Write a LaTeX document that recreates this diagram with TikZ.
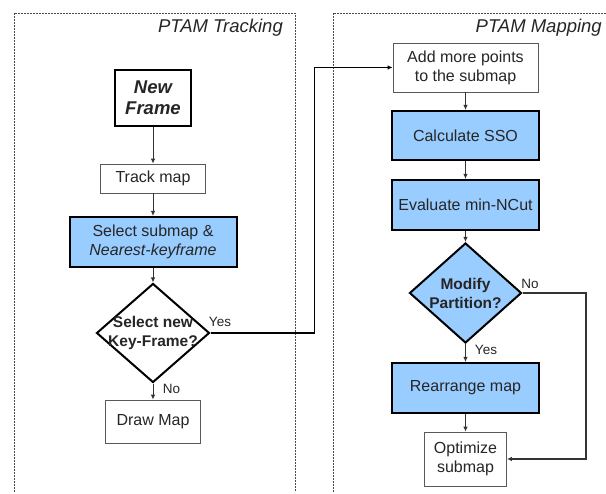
\documentclass[tikz,border=0pt]{standalone}
\usepackage{fontspec}
\setmainfont{Liberation Sans}
\usetikzlibrary{shapes.geometric,arrows.meta}
\definecolor{boxblue}{HTML}{99CCFF}
\definecolor{txt}{HTML}{262626}
\definecolor{framegray}{HTML}{4A4A4A}
\definecolor{linegray}{HTML}{333333}
\tikzset{
  base/.style={font=\fontsize{16}{19}\selectfont, text=txt, align=center, inner sep=0pt},
  plainbox/.style={base, draw=gray!70!black, line width=0.8pt, fill=white},
  bluebox/.style={base, draw=black, line width=2pt, fill=boxblue},
  decision/.style={diamond, draw=black, line width=2pt, inner sep=0pt},
  dtext/.style={font=\bfseries\fontsize{15.5}{19}\selectfont, text=txt, align=center, inner sep=0pt},
  lbl/.style={font=\fontsize{13.5}{16}\selectfont, text=txt, inner sep=0pt},
  title/.style={font=\itshape\fontsize{18.5}{22}\selectfont, text=txt, inner sep=0pt, anchor=east},
  frame/.style={draw=framegray, line width=0.9pt, dash pattern=on 1.6pt off 1.4pt},
  arr/.style={draw=linegray, line width=0.9pt, -{Latex[length=5pt,width=4.5pt]}},
}
\begin{document}
\begin{tikzpicture}[x=1pt,y=-1pt]
\useasboundingbox (0,0) rectangle (606,494);

% process frames
\draw[frame] (14,492) -- (14,13) -- (295,13) -- (295,492);
\draw[frame] (333,492) -- (333,13) -- (606,13);
\node[title] (ttrack) at (283,28) {PTAM Tracking};
\node[title] (tmap) at (602,28) {PTAM Mapping};

% tracking thread
\node[plainbox, draw=black, line width=1.8pt, minimum width=76pt, minimum height=56pt,
      font=\bfseries\itshape\fontsize{18.5}{21}\selectfont] (nf) at (153,98) {New\\Frame};
\node[plainbox, minimum width=105pt, minimum height=29pt] (tm) at (153,178.5) {Track map};
\node[bluebox, minimum width=167pt, minimum height=50pt] (sel) at (153,242) {Select submap \&\\\textit{Nearest-keyframe}};
\node[decision, minimum width=113pt, minimum height=99pt, fill=white,
      label={[dtext]center:Select new\\Key-Frame?}] (kf) at (153,333) {};
\node[plainbox, minimum width=95pt, minimum height=43pt] (dm) at (153,421.5) {Draw Map};

% mapping thread
\node[plainbox, minimum width=145pt, minimum height=49pt] (add) at (465.5,67.5) {Add more points\\to the submap};
\node[bluebox, minimum width=147pt, minimum height=49pt] (sso) at (465.5,135.5) {Calculate SSO};
\node[bluebox, minimum width=147pt, minimum height=50pt] (enc) at (465.5,205) {Evaluate min-NCut};
\node[decision, minimum width=112pt, minimum height=100pt, fill=boxblue,
      label={[dtext]center:Modify\\Partition?}] (md) at (465.5,293) {};
\node[bluebox, minimum width=147pt, minimum height=50pt] (rm) at (465.5,388) {Rearrange map};
\node[plainbox, minimum width=82pt, minimum height=54pt] (opt) at (465.5,459) {Optimize\\submap};

% connectors
\draw[arr] (nf) -- (tm);
\draw[arr] (tm) -- (sel);
\draw[arr] (sel) -- (kf);
\draw[arr] (kf) -- (dm);
\draw[arr, draw=black, line width=1.3pt] (kf.east) -- ++(104,0) |- (add.west);
\draw[arr] (add) -- (sso);
\draw[arr] (sso) -- (enc);
\draw[arr] (enc) -- (md);
\draw[arr] (md) -- (rm);
\draw[arr] (rm) -- (opt);
\coordinate (nocorner) at (586,293);
\draw[arr, line width=1.1pt] (md.east) -- (nocorner) |- (opt.east);

% branch labels
\node[lbl] (yes1) at (220,322) {Yes};
\node[lbl] (no1) at (171.5,389) {No};
\node[lbl] (no2) at (530,284) {No};
\node[lbl] (yes2) at (486,350) {Yes};
\end{tikzpicture}
\end{document}
